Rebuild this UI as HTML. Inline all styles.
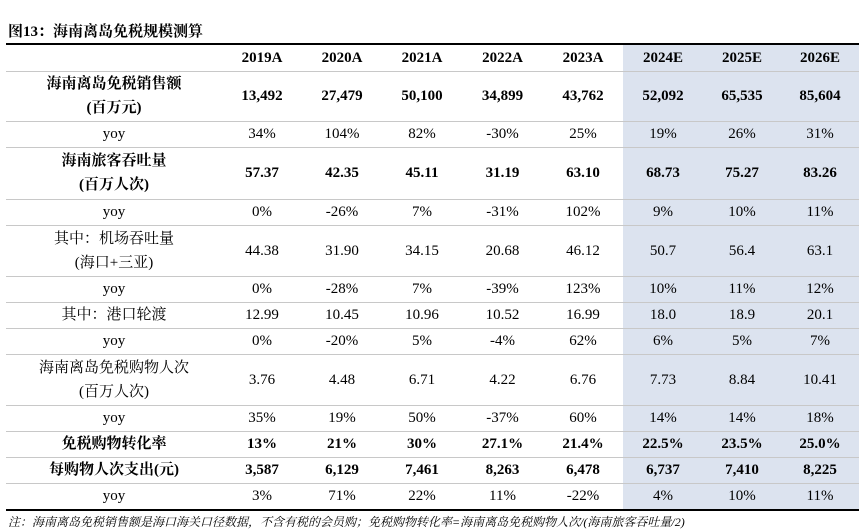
<!DOCTYPE html>
<html><head><meta charset="utf-8">
<style>
body{margin:0;width:862px;height:531px;background:#fff;position:relative;font-family:"Liberation Serif","Noto Serif CJK SC",serif;color:#000;overflow:hidden}
#title{position:absolute;left:8px;top:20px;font-size:15px;font-weight:bold}
#shade{position:absolute;left:623px;top:44px;width:236px;height:465px;background:#dce3ef}
table{position:absolute;left:6px;top:43px;width:853px;border-collapse:collapse;table-layout:fixed;font-size:15px;border-top:2px solid #000;border-bottom:2px solid #000}
td{text-align:center;padding:0;border-bottom:1px solid #c8c8c8;line-height:24px}
tr:last-child td{border-bottom:none}
.b td{font-weight:bold}
#foot{position:absolute;left:8px;top:513px;font-size:12px;font-style:italic}
</style></head><body>
<div id="title">图13：海南离岛免税规模测算</div>
<div id="shade"></div>
<table>
<colgroup><col style="width:216px"><col style="width:80px"><col style="width:80px"><col style="width:80px"><col style="width:81px"><col style="width:80px"><col style="width:80px"><col style="width:78px"><col style="width:78px"></colgroup>
<tr class="b" style="height:27px"><td></td><td>2019A</td><td>2020A</td><td>2021A</td><td>2022A</td><td>2023A</td><td>2024E</td><td>2025E</td><td>2026E</td></tr>
<tr class="b" style="height:50px"><td>海南离岛免税销售额<br>(百万元)</td><td>13,492</td><td>27,479</td><td>50,100</td><td>34,899</td><td>43,762</td><td>52,092</td><td>65,535</td><td>85,604</td></tr>
<tr style="height:26px"><td>yoy</td><td>34%</td><td>104%</td><td>82%</td><td>-30%</td><td>25%</td><td>19%</td><td>26%</td><td>31%</td></tr>
<tr class="b" style="height:52px"><td>海南旅客吞吐量<br>(百万人次)</td><td>57.37</td><td>42.35</td><td>45.11</td><td>31.19</td><td>63.10</td><td>68.73</td><td>75.27</td><td>83.26</td></tr>
<tr style="height:26px"><td>yoy</td><td>0%</td><td>-26%</td><td>7%</td><td>-31%</td><td>102%</td><td>9%</td><td>10%</td><td>11%</td></tr>
<tr style="height:51px"><td>其中：机场吞吐量<br>(海口+三亚)</td><td>44.38</td><td>31.90</td><td>34.15</td><td>20.68</td><td>46.12</td><td>50.7</td><td>56.4</td><td>63.1</td></tr>
<tr style="height:26px"><td>yoy</td><td>0%</td><td>-28%</td><td>7%</td><td>-39%</td><td>123%</td><td>10%</td><td>11%</td><td>12%</td></tr>
<tr style="height:26px"><td>其中：港口轮渡</td><td>12.99</td><td>10.45</td><td>10.96</td><td>10.52</td><td>16.99</td><td>18.0</td><td>18.9</td><td>20.1</td></tr>
<tr style="height:26px"><td>yoy</td><td>0%</td><td>-20%</td><td>5%</td><td>-4%</td><td>62%</td><td>6%</td><td>5%</td><td>7%</td></tr>
<tr style="height:51px"><td>海南离岛免税购物人次<br>(百万人次)</td><td>3.76</td><td>4.48</td><td>6.71</td><td>4.22</td><td>6.76</td><td>7.73</td><td>8.84</td><td>10.41</td></tr>
<tr style="height:26px"><td>yoy</td><td>35%</td><td>19%</td><td>50%</td><td>-37%</td><td>60%</td><td>14%</td><td>14%</td><td>18%</td></tr>
<tr class="b" style="height:26px"><td>免税购物转化率</td><td>13%</td><td>21%</td><td>30%</td><td>27.1%</td><td>21.4%</td><td>22.5%</td><td>23.5%</td><td>25.0%</td></tr>
<tr class="b" style="height:26px"><td>每购物人次支出(元)</td><td>3,587</td><td>6,129</td><td>7,461</td><td>8,263</td><td>6,478</td><td>6,737</td><td>7,410</td><td>8,225</td></tr>
<tr style="height:27px"><td>yoy</td><td>3%</td><td>71%</td><td>22%</td><td>11%</td><td>-22%</td><td>4%</td><td>10%</td><td>11%</td></tr>
</table>
<div id="foot">注：海南离岛免税销售额是海口海关口径数据，不含有税的会员购；免税购物转化率=海南离岛免税购物人次/(海南旅客吞吐量/2)</div>
</body></html>
